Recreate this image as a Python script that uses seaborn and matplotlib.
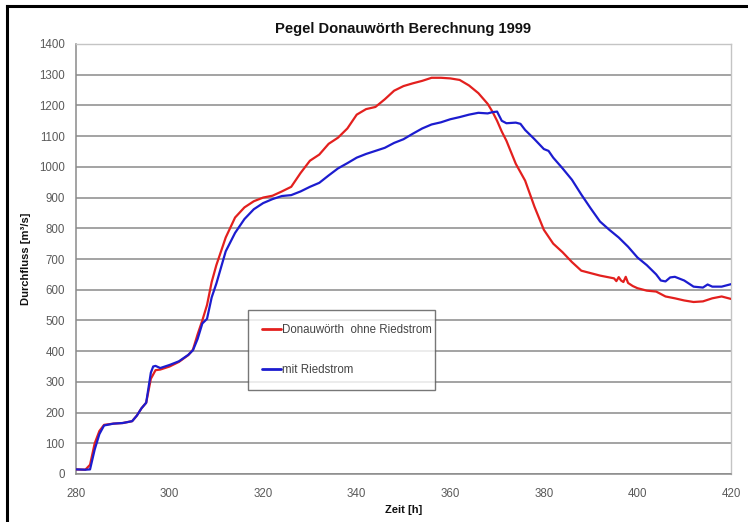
import matplotlib
matplotlib.use("Agg")
import matplotlib.pyplot as plt
from matplotlib.lines import Line2D
import seaborn as sns
import pandas as pd

# Discharge hydrograph at gauge Donauwörth, flood event 1999
ohne_hours = [280, 282, 283, 284, 285, 286, 288, 290, 292, 293, 294, 295, 296, 297, 298,
              300, 302, 304, 305, 306, 307, 308, 309, 310, 312, 314, 316, 318, 320, 322,
              324, 326, 328, 330, 332, 334, 336, 338, 340, 342, 344, 346, 348, 350, 352,
              354, 356, 358, 360, 362, 364, 366, 368, 369, 370, 371, 372, 374, 376, 378,
              380, 382, 384, 386, 388, 390, 392, 394, 395, 395.5, 396, 396.5, 397, 397.5,
              398, 399, 400, 402, 404, 406, 408, 410, 412, 414, 416, 418, 420]
ohne_flow = [15, 14, 30, 100, 140, 160, 164, 166, 172, 190, 214, 232, 310, 338, 340,
             350, 365, 387, 405, 455, 500, 550, 625, 680, 770, 835, 868, 888, 900, 906,
             920, 935, 980, 1020, 1040, 1075, 1095, 1125, 1170, 1188, 1195, 1220, 1248, 1263, 1272,
             1280, 1290, 1290, 1288, 1283, 1265, 1240, 1205, 1180, 1150, 1115, 1085, 1010, 955, 870,
             795, 750, 722, 690, 662, 654, 646, 640, 637, 628, 641, 630, 625, 642,
             622, 612, 605, 597, 594, 578, 572, 565, 560, 562, 572, 578, 570]

mit_hours = [280, 282, 283, 284, 285, 286, 288, 290, 292, 293, 294, 295, 296, 296.5, 297,
             298, 300, 302, 304, 305, 306, 307, 308, 309, 310, 312, 314, 316, 318, 320,
             322, 324, 326, 328, 330, 332, 334, 336, 338, 340, 342, 344, 346, 348, 350,
             352, 354, 356, 358, 360, 362, 364, 366, 368, 369, 370, 371, 372, 374, 375,
             376, 378, 380, 381, 382, 384, 386, 388, 390, 392, 394, 396, 398, 400, 402,
             404, 405, 406, 407, 408, 410, 412, 414, 415, 416, 418, 420]
mit_flow = [15, 14, 15, 80, 130, 158, 164, 166, 172, 190, 214, 232, 330, 350, 352,
            345, 355, 367, 388, 403, 440, 490, 505, 575, 620, 725, 785, 830, 862, 882,
            895, 905, 908, 920, 935, 948, 972, 995, 1012, 1030, 1042, 1052, 1062, 1078, 1090,
            1108, 1125, 1138, 1145, 1155, 1162, 1170, 1176, 1174, 1178, 1180, 1150, 1142, 1144, 1140,
            1120, 1090, 1058, 1052, 1030, 995, 958, 910, 865, 822, 795, 770, 740, 705, 680,
            650, 630, 627, 640, 642, 630, 610, 607, 617, 610, 610, 618]

series_names = ["Donauwörth  ohne Riedstrom", "mit Riedstrom"]
series_colors = ["#e3201e", "#1c1ccf"]

x_ticks = list(range(280, 421, 20))
y_ticks = list(range(0, 1401, 100))

df = pd.concat([
    pd.DataFrame({"Zeit": ohne_hours, "Durchfluss": ohne_flow, "Variante": series_names[0]}),
    pd.DataFrame({"Zeit": mit_hours, "Durchfluss": mit_flow, "Variante": series_names[1]}),
], ignore_index=True)

sns.set_theme(style="white")
plt.rcParams["font.family"] = ["Liberation Sans", "DejaVu Sans"]

fig = plt.figure(figsize=(7.48, 5.22), dpi=100)
ax = fig.add_axes([76 / 748, 1 - 474 / 522, 655 / 748, 430 / 522])

sns.lineplot(data=df, x="Zeit", y="Durchfluss", hue="Variante",
             palette=dict(zip(series_names, series_colors)),
             estimator=None, sort=False, linewidth=1.6, ax=ax, zorder=3)

ax.set_xlim(280, 420)
ax.set_ylim(0, 1400)
ax.set_xticks(x_ticks)
ax.set_yticks(y_ticks)
ax.yaxis.grid(True, color="#8a8a8a", linewidth=1.1, zorder=1)
ax.xaxis.grid(False)

for side in ["left", "bottom"]:
    ax.spines[side].set_color("#8a8a8a")
    ax.spines[side].set_linewidth(1.1)
for side in ["top", "right"]:
    ax.spines[side].set_color("#c4c4c4")
    ax.spines[side].set_linewidth(1.0)

ax.tick_params(axis="both", which="major", direction="out", length=4, width=1,
               color="#8a8a8a", labelsize=8.3, labelcolor="#5a5a5a", pad=4)
ax.tick_params(axis="x", pad=6)

ax.set_title("Pegel Donauwörth Berechnung 1999", fontsize=10.6, fontweight="bold",
             color="#111111", pad=8)
ax.set_xlabel("Zeit [h]", fontsize=8, fontweight="bold", color="#111111", labelpad=4)
ax.set_ylabel("Durchfluss [m³/s]", fontsize=8, fontweight="bold", color="#111111", labelpad=6)

leg = ax.legend(loc="lower left", bbox_to_anchor=(0.263, 0.195, 0.2855, 0.18), mode="expand",
                frameon=True, fancybox=False, shadow=False, fontsize=8.3,
                labelspacing=2.45, handlelength=1.6, handletextpad=0.1,
                borderpad=1.2, borderaxespad=0, title=None)
leg.get_frame().set_edgecolor("#555555")
leg.get_frame().set_linewidth(1.0)
for t in leg.get_texts():
    t.set_color("#444444")
for h in leg.get_lines():
    h.set_linewidth(2.0)

# outer frame of the figure: only its top and left edges fall inside the image
frame_x = 6.5 / 748
frame_y = 1 - 5.5 / 522
fig.add_artist(Line2D([frame_x, 1.0], [frame_y, frame_y], transform=fig.transFigure,
                      color="black", linewidth=2.2, solid_capstyle="projecting"))
fig.add_artist(Line2D([frame_x, frame_x], [0.0, frame_y], transform=fig.transFigure,
                      color="black", linewidth=2.2, solid_capstyle="projecting"))

fig.savefig("out.png", dpi=100, facecolor="white")
